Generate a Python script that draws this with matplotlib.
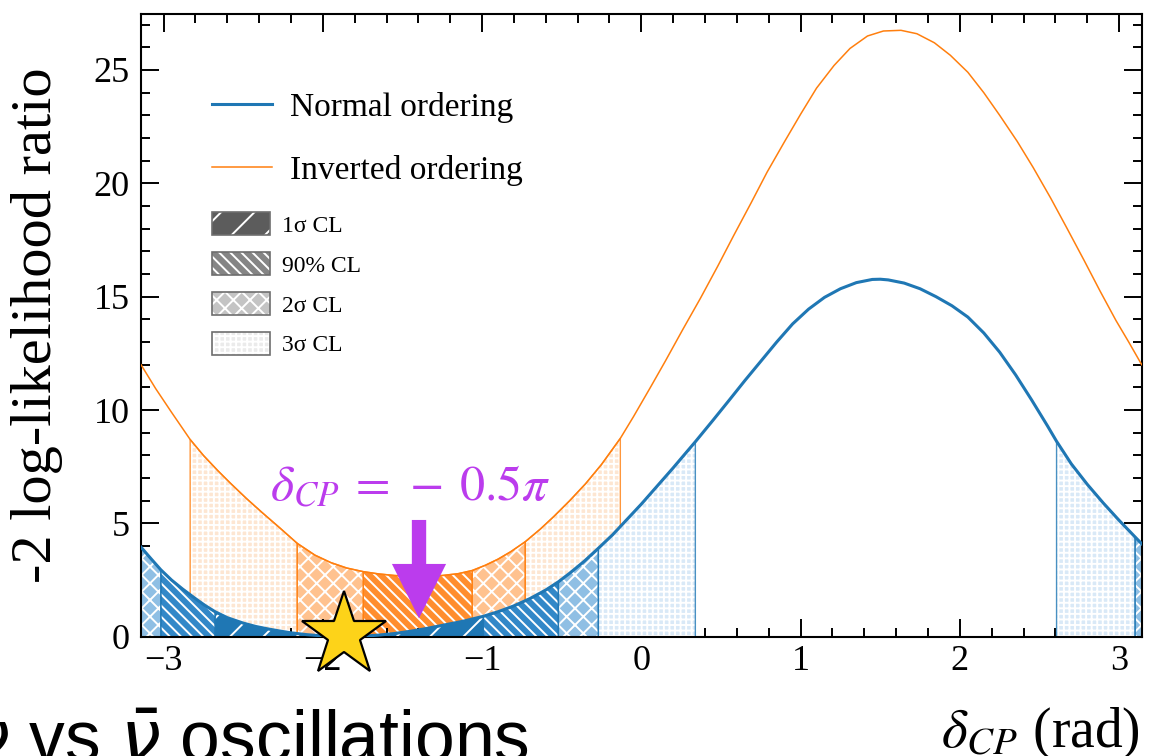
import matplotlib

matplotlib.use("Agg")
import matplotlib.patches as mpatches
import matplotlib.pyplot as plt
import numpy as np
from matplotlib.legend_handler import HandlerTuple
from matplotlib.lines import Line2D
from matplotlib.ticker import AutoMinorLocator, MultipleLocator

# -2 log-likelihood ratio vs delta_CP
X_NO = [-3.1416, -3.08, -3.017, -2.95, -2.88, -2.8, -2.74, -2.676, -2.6, -2.5,
        -2.42, -2.35, -2.27, -2.2, -2.1, -2.0, -1.87, -1.75, -1.65, -1.55,
        -1.45, -1.35, -1.25, -1.12, -0.992, -0.9, -0.8, -0.7, -0.6, -0.521,
        -0.45, -0.36, -0.27, -0.18, -0.1, 0.0, 0.1, 0.2, 0.27, 0.339,
        0.45, 0.55, 0.65, 0.75, 0.85, 0.95, 1.05, 1.15, 1.25, 1.35,
        1.45, 1.5, 1.55, 1.65, 1.75, 1.85, 1.95, 2.05, 2.15, 2.25,
        2.35, 2.45, 2.55, 2.607, 2.7, 2.8, 2.9, 3.0, 3.1, 3.1416]
Y_NO = [3.95, 3.45, 2.95, 2.5, 2.1, 1.68, 1.38, 1.1, 0.84, 0.6,
        0.45, 0.35, 0.25, 0.17, 0.09, 0.035, 0.0, 0.02, 0.07, 0.14,
        0.24, 0.36, 0.5, 0.68, 0.9, 1.1, 1.36, 1.68, 2.06, 2.42,
        2.8, 3.32, 3.9, 4.5, 5.1, 5.85, 6.65, 7.45, 8.03, 8.6,
        9.55, 10.42, 11.3, 12.15, 13.0, 13.8, 14.45, 14.97, 15.35, 15.62,
        15.76, 15.77, 15.74, 15.6, 15.35, 15.0, 14.6, 14.1, 13.4, 12.55,
        11.55, 10.45, 9.3, 8.62, 7.62, 6.72, 5.9, 5.13, 4.4, 4.1]

X_IO = [-3.1416, -3.05, -2.95, -2.833, -2.75, -2.66, -2.58, -2.48, -2.38, -2.27,
        -2.161, -2.05, -1.95, -1.85, -1.746, -1.65, -1.55, -1.45, -1.35, -1.25,
        -1.15, -1.062, -0.98, -0.9, -0.82, -0.729, -0.634, -0.55, -0.45, -0.35,
        -0.25, -0.132, -0.05, 0.057, 0.15, 0.26, 0.371, 0.48, 0.58, 0.69,
        0.79, 0.9, 1.0, 1.1, 1.21, 1.31, 1.42, 1.52, 1.63, 1.73,
        1.84, 1.94, 2.05, 2.15, 2.25, 2.36, 2.46, 2.57, 2.67, 2.78,
        2.88, 2.98, 3.06, 3.1416]
Y_IO = [12.0, 10.95, 9.9, 8.7, 8.0, 7.33, 6.77, 6.1, 5.47, 4.8,
        4.12, 3.6, 3.27, 3.03, 2.87, 2.77, 2.7, 2.66, 2.66, 2.7,
        2.78, 2.92, 3.15, 3.42, 3.75, 4.19, 4.75, 5.3, 6.0, 6.75,
        7.6, 8.75, 9.7, 11.0, 12.15, 13.55, 14.93, 16.35, 17.7, 19.15,
        20.5, 21.85, 23.05, 24.2, 25.2, 25.95, 26.5, 26.72, 26.75, 26.6,
        26.2, 25.65, 24.9, 24.0, 23.0, 21.85, 20.7, 19.35, 18.05, 16.6,
        15.25, 13.95, 13.0, 12.0]

# confidence intervals (delta_CP ranges)
NO_INTERVALS = {
    "3s": [(-0.27, 0.339), (2.607, 3.1)],
    "2s": [(-3.1416, -3.017), (-0.521, -0.27), (3.1, 3.1416)],
    "90": [(-3.017, -2.676), (-0.992, -0.521)],
    "1s": [(-2.676, -0.992)],
}
IO_INTERVALS = {
    "3s": [(-2.833, -2.161), (-0.729, -0.132)],
    "2s": [(-2.161, -1.746), (-1.062, -0.729)],
    "90": [(-1.746, -1.062)],
}

BEST_FIT = (-1.866, 0.09)
ARROW_X = -1.396

BLUE = "#1f77b4"
ORANGE = "#ff7f0e"
PURPLE = "#bb3ced"

HATCH = {"1s": "/", "90": "\\\\\\", "2s": "xx", "3s": "+++"}
NO_FILL = {"1s": "#1f77b4", "90": "#3288c8", "2s": "#8fbfe4", "3s": "#d9e9f7"}
IO_FILL = {"90": "#ff8d2e", "2s": "#ffc28f", "3s": "#fde6d2"}
GRAY_FILL = {"1s": "#5c5c5c", "90": "#858585", "2s": "#c4c4c4", "3s": "#ebebeb"}
CL_LABELS = {"1s": "1σ CL", "90": "90% CL", "2s": "2σ CL", "3s": "3σ CL"}


def fill_band(ax, x, y, lo, hi, face, hatch, edge, z):
    m = (x >= lo - 1e-6) & (x <= hi + 1e-6)
    ax.fill_between(x[m], 0, y[m], facecolor=face, edgecolor="white", hatch=hatch,
                    linewidth=0, zorder=z)
    ax.fill_between(x[m], 0, y[m], facecolor="none", edgecolor=edge, linewidth=1.0,
                    alpha=0.8, zorder=z + 0.1)


def main() -> None:
    plt.rcParams["font.family"] = ["Liberation Serif", "DejaVu Serif"]
    plt.rcParams["mathtext.fontset"] = "stix"
    plt.rcParams["hatch.linewidth"] = 1.4

    x_no, y_no = np.array(X_NO), np.array(Y_NO)
    x_io, y_io = np.array(X_IO), np.array(Y_IO)

    fig = plt.figure(figsize=(11.65, 7.56), dpi=100)
    ax = fig.add_axes([141 / 1165, 1 - 636.7 / 756, 1000.7 / 1165, 622.7 / 756])

    for key in ("3s", "2s", "90"):
        for lo, hi in IO_INTERVALS[key]:
            fill_band(ax, x_io, y_io, lo, hi, IO_FILL[key], HATCH[key], ORANGE, 1)
    for key in ("3s", "2s", "90", "1s"):
        for lo, hi in NO_INTERVALS[key]:
            fill_band(ax, x_no, y_no, lo, hi, NO_FILL[key], HATCH[key], BLUE, 2)

    ax.plot(x_io, y_io, color=ORANGE, linewidth=1.1, zorder=4)
    ax.plot(x_no, y_no, color=BLUE, linewidth=2.2, zorder=4)

    ax.plot(*BEST_FIT, marker="*", markersize=64, markerfacecolor="#fdd319",
            markeredgecolor="black", markeredgewidth=1.6, clip_on=False, zorder=10)

    ax.arrow(ARROW_X, 5.15, 0, -4.34, width=0.09, head_width=0.34, head_length=2.4,
             length_includes_head=True, color=PURPLE, linewidth=0, zorder=9)
    ax.text(-1.451, 6.03, r"$\delta_{CP}\:=\,-\:0.5\pi$", color=PURPLE, fontsize=36,
            ha="center", va="baseline", zorder=9)

    ax.set_xlim(-np.pi, np.pi)
    ax.set_ylim(0, 27.47)
    ax.xaxis.set_major_locator(MultipleLocator(1))
    ax.yaxis.set_major_locator(MultipleLocator(5))
    ax.xaxis.set_minor_locator(AutoMinorLocator(5))
    ax.yaxis.set_minor_locator(AutoMinorLocator(5))
    ax.tick_params(which="both", direction="in", top=True, right=True, width=1.4,
                   labelsize=26)
    ax.tick_params(which="major", length=13)
    ax.tick_params(which="minor", length=6.5)
    ax.tick_params(axis="x", pad=6)
    ax.tick_params(axis="y", pad=8)
    for spine in ax.spines.values():
        spine.set_linewidth(1.5)

    ax.set_ylabel("-2 log-likelihood ratio", fontsize=42, labelpad=22)

    line_handles = [Line2D([], [], color=BLUE, linewidth=2.2),
                    Line2D([], [], color=ORANGE, linewidth=1.1)]
    leg1 = ax.legend(line_handles, ["Normal ordering", "Inverted ordering"],
                     loc="upper left", bbox_to_anchor=(0.071, 0.875), frameon=False,
                     fontsize=24, handlelength=1.8, handletextpad=0.54, labelspacing=0.96,
                     borderpad=0, borderaxespad=0)
    ax.add_artist(leg1)

    patch_handles = []
    for key in ("1s", "90", "2s", "3s"):
        hatched = mpatches.Patch(facecolor=GRAY_FILL[key], edgecolor="white",
                                 hatch=HATCH[key], linewidth=0)
        outline = mpatches.Patch(facecolor="none", edgecolor="#6e6e6e", linewidth=1.2)
        patch_handles.append((hatched, outline))
    ax.legend(patch_handles, [CL_LABELS[k] for k in ("1s", "90", "2s", "3s")],
              handler_map={tuple: HandlerTuple(ndivide=1, pad=0)},
              loc="upper left", bbox_to_anchor=(0.071, 0.6825), frameon=False,
              fontsize=17, handlelength=2.46, handleheight=1.17, handletextpad=0.51,
              labelspacing=0.64, borderpad=0, borderaxespad=0)

    fig.text(1140 / 1165, 9 / 756, r"$\delta_{CP}$ (rad)", fontsize=40,
             ha="right", va="baseline")
    fig.text(-31 / 1165, -6 / 756, r"$\nu$ vs $\bar{\nu}$ oscillations", fontsize=51.5,
             family="Liberation Sans", math_fontfamily="dejavusans",
             ha="left", va="baseline")

    fig.savefig("out.png", dpi=100)


if __name__ == "__main__":
    main()
